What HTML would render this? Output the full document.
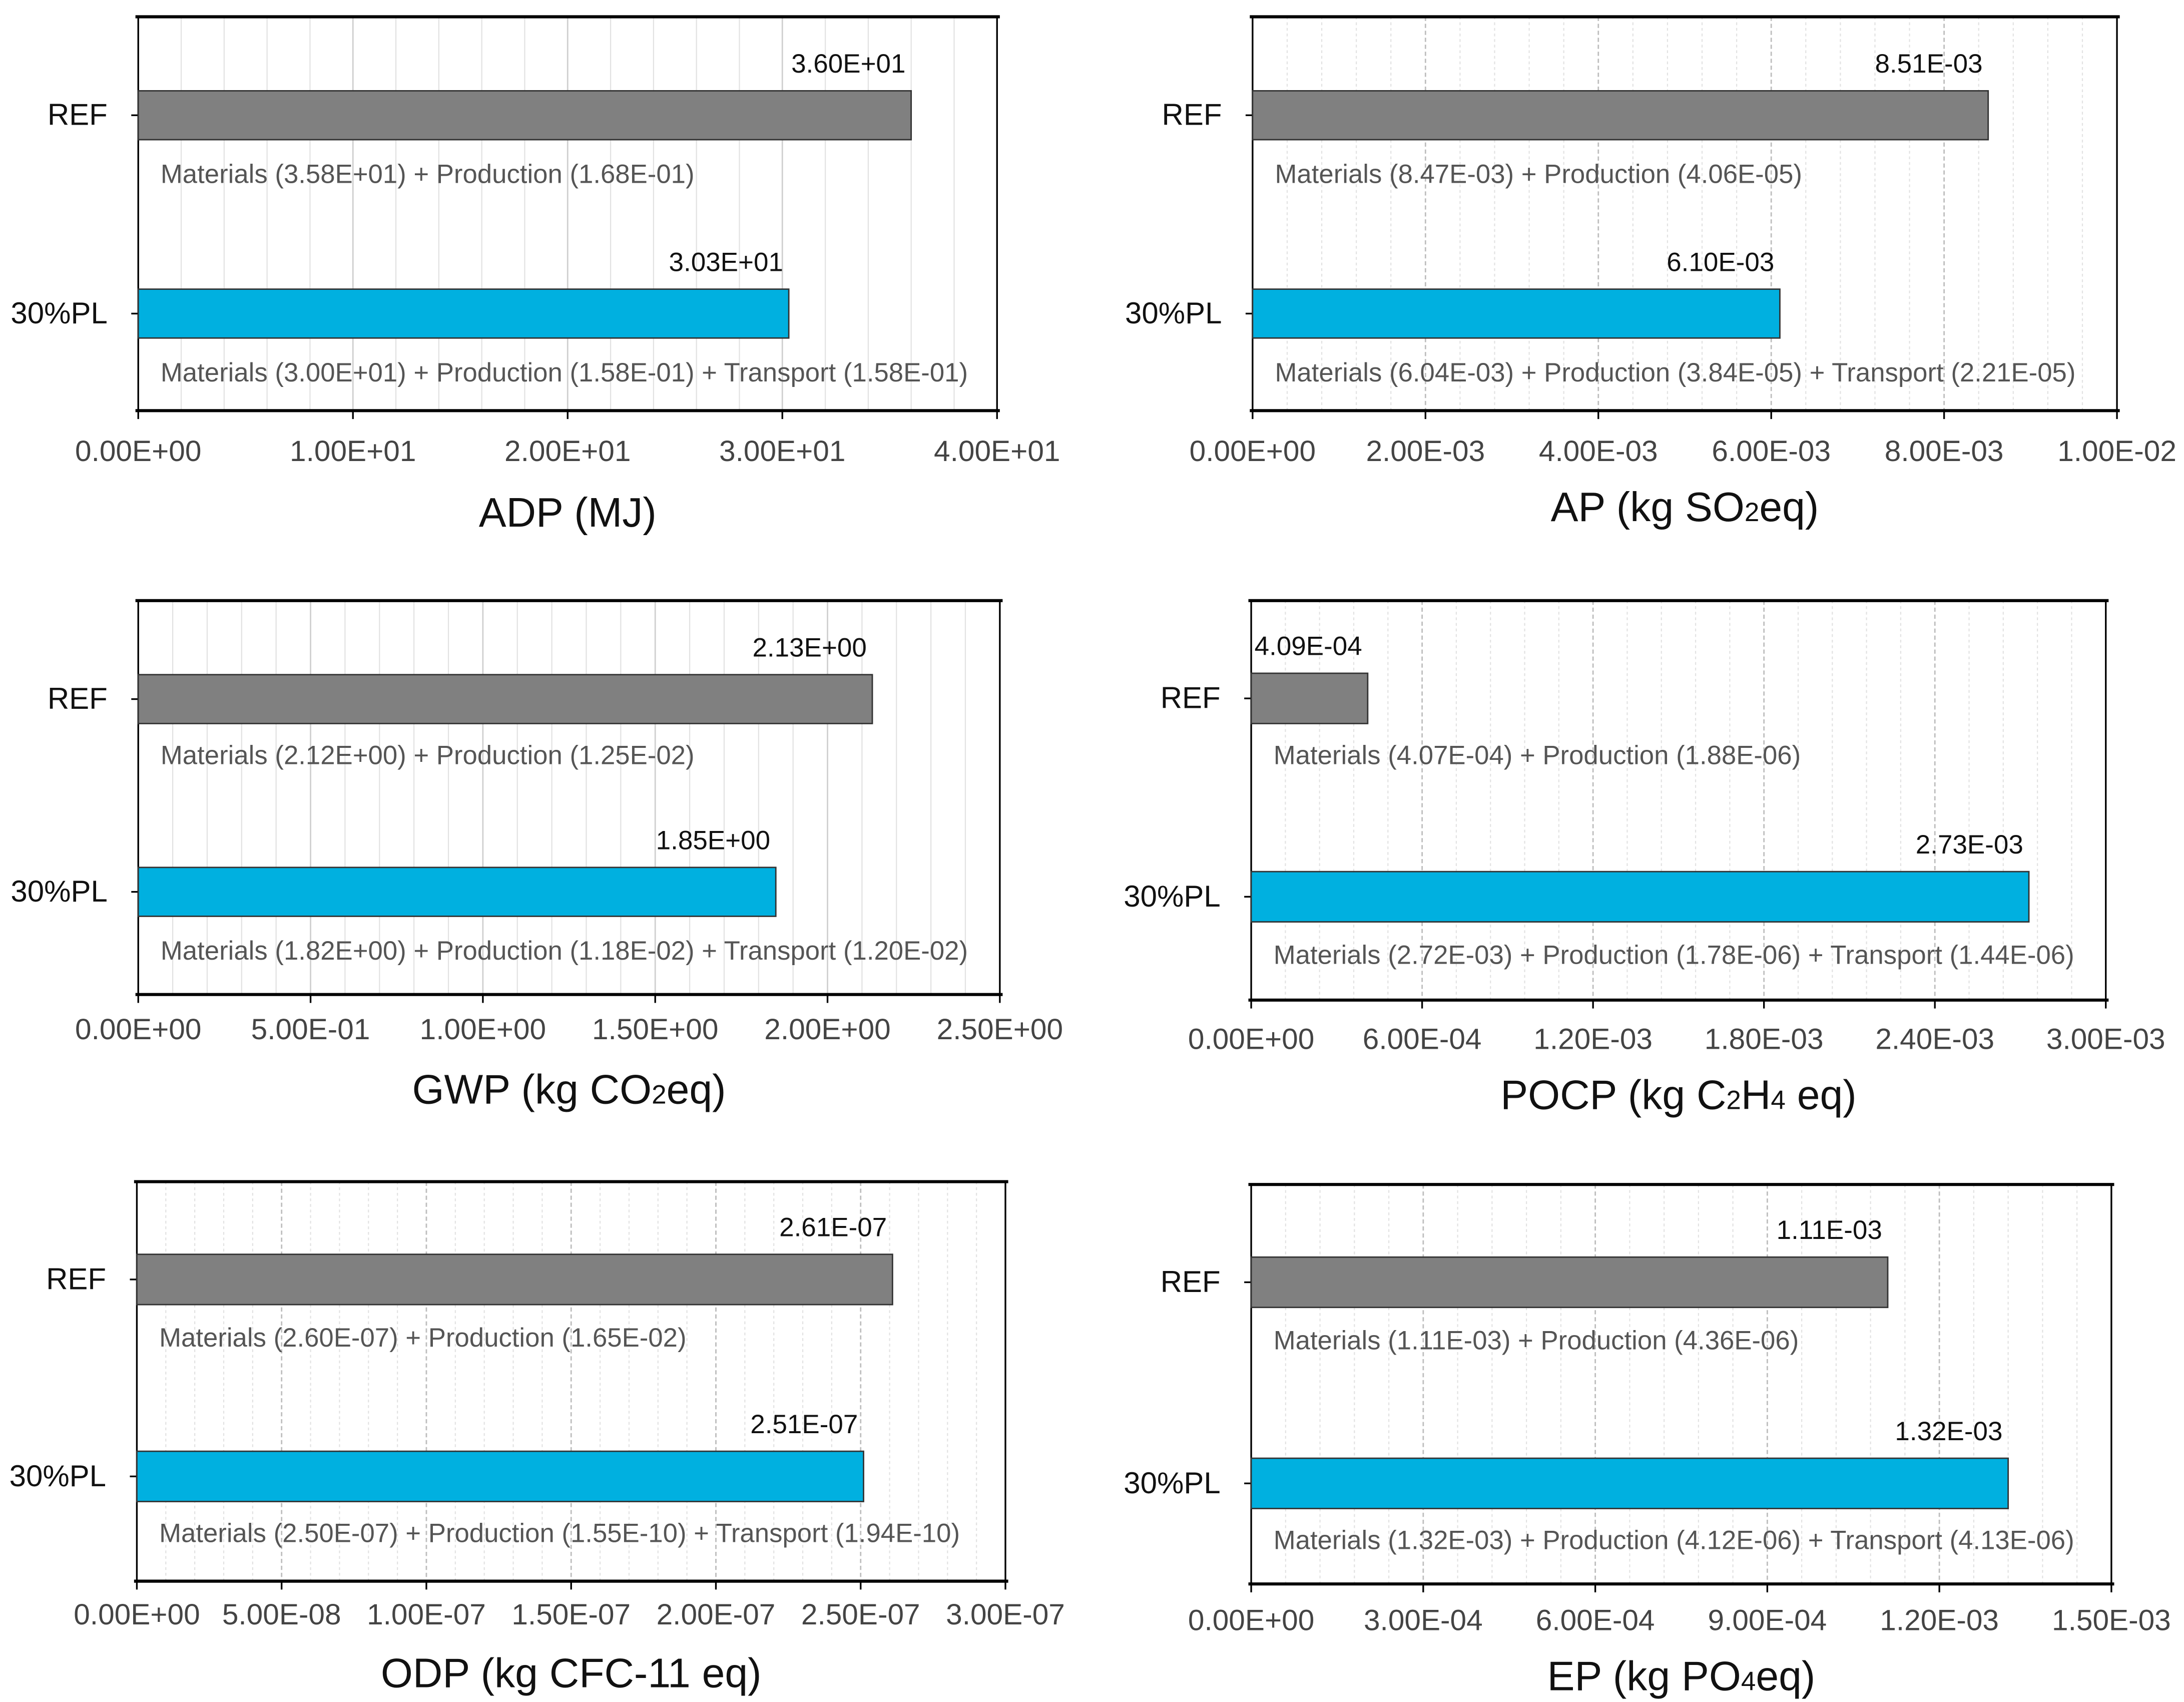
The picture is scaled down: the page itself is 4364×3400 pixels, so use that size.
<!DOCTYPE html>
<html><head><meta charset="utf-8"><style>
html,body{margin:0;padding:0;background:#fff}
svg{display:block}
text{font-family:"Liberation Sans",sans-serif}
</style></head><body>
<svg id="fig" xmlns="http://www.w3.org/2000/svg" width="4364" height="3400" viewBox="0 0 1564 1218.5"></svg>
<script>
const categories = ["REF", "30%PL"];
const adpValues = [36.0, 30.3];
const apValues = [8.51e-3, 6.10e-3];
const gwpValues = [2.13, 1.85];
const pocpValues = [4.09e-4, 2.73e-3];
const odpValues = [2.61e-7, 2.51e-7];
const epValues = [1.11e-3, 1.32e-3];
const adpLabels = ["3.60E+01", "3.03E+01"];
const apLabels = ["8.51E-03", "6.10E-03"];
const gwpLabels = ["2.13E+00", "1.85E+00"];
const pocpLabels = ["4.09E-04", "2.73E-03"];
const odpLabels = ["2.61E-07", "2.51E-07"];
const epLabels = ["1.11E-03", "1.32E-03"];
const adpTicks = [0, 10, 20, 30, 40];
const apTicks = [0, 0.002, 0.004, 0.006, 0.008, 0.010];
const gwpTicks = [0, 0.5, 1.0, 1.5, 2.0, 2.5];
const pocpTicks = [0, 6e-4, 1.2e-3, 1.8e-3, 2.4e-3, 3.0e-3];
const odpTicks = [0, 5e-8, 1e-7, 1.5e-7, 2e-7, 2.5e-7, 3e-7];
const epTicks = [0, 3e-4, 6e-4, 9e-4, 1.2e-3, 1.5e-3];
const adpTickLabels = ["0.00E+00","1.00E+01","2.00E+01","3.00E+01","4.00E+01"];
const apTickLabels = ["0.00E+00","2.00E-03","4.00E-03","6.00E-03","8.00E-03","1.00E-02"];
const gwpTickLabels = ["0.00E+00","5.00E-01","1.00E+00","1.50E+00","2.00E+00","2.50E+00"];
const pocpTickLabels = ["0.00E+00","6.00E-04","1.20E-03","1.80E-03","2.40E-03","3.00E-03"];
const odpTickLabels = ["0.00E+00","5.00E-08","1.00E-07","1.50E-07","2.00E-07","2.50E-07","3.00E-07"];
const epTickLabels = ["0.00E+00","3.00E-04","6.00E-04","9.00E-04","1.20E-03","1.50E-03"];
const adpNotes = ["Materials (3.58E+01) + Production (1.68E-01)","Materials (3.00E+01) + Production (1.58E-01) + Transport (1.58E-01)"];
const apNotes = ["Materials (8.47E-03) + Production (4.06E-05)","Materials (6.04E-03) + Production (3.84E-05) + Transport (2.21E-05)"];
const gwpNotes = ["Materials (2.12E+00) + Production (1.25E-02)","Materials (1.82E+00) + Production (1.18E-02) + Transport (1.20E-02)"];
const pocpNotes = ["Materials (4.07E-04) + Production (1.88E-06)","Materials (2.72E-03) + Production (1.78E-06) + Transport (1.44E-06)"];
const odpNotes = ["Materials (2.60E-07) + Production (1.65E-02)","Materials (2.50E-07) + Production (1.55E-10) + Transport (1.94E-10)"];
const epNotes = ["Materials (1.11E-03) + Production (4.36E-06)","Materials (1.32E-03) + Production (4.12E-06) + Transport (4.13E-06)"];

const NS = "http://www.w3.org/2000/svg";
const svg = document.getElementById("fig");
function mk(tag, attrs, parent, txt){
  const e = document.createElementNS(NS, tag);
  for (const k in attrs) e.setAttribute(k, attrs[k]);
  if (txt !== undefined) e.textContent = txt;
  (parent || svg).appendChild(e);
  return e;
}
const panels = [
 {name:"adp", vals:adpValues, labs:adpLabels, ticks:adpTicks, tl:adpTickLabels, notes:adpNotes, title:["ADP (MJ)"], L:99,R:714,T:12,B:294, bars:[65,207], bh:35, tickY:330, titleY:377, noteY:[131,273], dashed:false},
 {name:"ap", vals:apValues, labs:apLabels, ticks:apTicks, tl:apTickLabels, notes:apNotes, title:["AP (kg SO","2","eq)"], L:897,R:1516,T:12,B:294, bars:[65,207], bh:35, tickY:330, titleY:373, noteY:[131,273], dashed:true},
 {name:"gwp", vals:gwpValues, labs:gwpLabels, ticks:gwpTicks, tl:gwpTickLabels, notes:gwpNotes, title:["GWP (kg CO","2","eq)"], L:99,R:716,T:430,B:712, bars:[483,621], bh:35, tickY:744, titleY:790, noteY:[547,687], dashed:false},
 {name:"pocp", vals:pocpValues, labs:pocpLabels, ticks:pocpTicks, tl:pocpTickLabels, notes:pocpNotes, title:["POCP (kg C","2","H","4"," eq)"], L:896,R:1508,T:430,B:716, bars:[482,624], bh:36, tickY:751, titleY:794, noteY:[547,690], dashed:true},
 {name:"odp", vals:odpValues, labs:odpLabels, ticks:odpTicks, tl:odpTickLabels, notes:odpNotes, title:["ODP (kg CFC-11 eq)"], L:98,R:720,T:846,B:1132, bars:[898,1039], bh:36, tickY:1163, titleY:1208, noteY:[964,1104], dashed:true},
 {name:"ep", vals:epValues, labs:epLabels, ticks:epTicks, tl:epTickLabels, notes:epNotes, title:["EP (kg PO","4","eq)"], L:896,R:1512,T:848,B:1134, bars:[900,1044], bh:36, tickY:1167, titleY:1210, noteY:[966,1109], dashed:true}
];
const fills = ["#808080", "#00b0e0"];
panels.forEach(p => {
  const g = mk("g", {});
  
  
  const max = p.ticks[p.ticks.length-1];
  const x = v => p.L + (v / max) * (p.R - p.L);
  const step = p.ticks[1] - p.ticks[0];
  for (let i = 0; i < p.ticks.length - 1; i++) {
    for (let j = 1; j < 5; j++) {
      const gl = mk("line", {x1:x(p.ticks[i]+step*j/5), x2:x(p.ticks[i]+step*j/5), y1:p.T, y2:p.B, stroke:"#e2e2e2", "stroke-width":0.8, "stroke-dasharray": p.dashed ? "2,2" : "none"}, g);
      
      
    }
    if (i > 0) {
      const gl = mk("line", {x1:x(p.ticks[i]), x2:x(p.ticks[i]), y1:p.T, y2:p.B, stroke:p.dashed?"#bdbdbd":"#cfcfcf", "stroke-width":1, "stroke-dasharray": p.dashed ? "3,2" : "none"}, g);
      
      
    }
  }
  const fr = mk("rect", {x:p.L, y:p.T, width:p.R-p.L, height:p.B-p.T, fill:"none", stroke:"#000", "stroke-width":1.2}, g);
  
  
  mk("line", {x1:p.L-2, x2:p.R+2, y1:p.T, y2:p.T, stroke:"#000", "stroke-width":2.2}, g);
  const xa = mk("line", {x1:p.L-2, x2:p.R+2, y1:p.B, y2:p.B, stroke:"#000", "stroke-width":2.2}, g);
  
  
  p.ticks.forEach((t, i) => {
    mk("line", {x1:x(t), x2:x(t), y1:p.B, y2:p.B+6, stroke:"#000", "stroke-width":1.2}, g);
    const tt = mk("text", {x:x(t), y:p.tickY, "text-anchor":"middle", "font-size":21, fill:"#444"}, g, p.tl[i]);
    
    
  });
  const ti = mk("text", {x:(p.L+p.R)/2, y:p.titleY, "text-anchor":"middle", "font-size":29.5, fill:"#111"}, g);
  
  
  p.title.forEach((s, i) => { mk("tspan", {"font-size": i % 2 ? 19 : 29.5}, ti, s); });
  categories.forEach((c, i) => {
    const y = p.bars[i];
    const cy = y + p.bh/2;
    mk("line", {x1:p.L-5, x2:p.L, y1:cy, y2:cy, stroke:"#000", "stroke-width":1.2}, g);
    const cl = mk("text", {x:p.L-22, y:cy+7, "text-anchor":"end", "font-size":21.5, fill:"#111"}, g, c);
    
    
    const b = mk("rect", {x:p.L, y:y, width:x(p.vals[i])-p.L, height:p.bh, fill:fills[i], stroke:"#333", "stroke-width":1}, g);
    
    
    const vl = mk("text", {x:x(p.vals[i])-4, y:y-13, "text-anchor":"end", "font-size":19, fill:"#111"}, g, p.labs[i]);
    
    
    const nt = mk("text", {x:p.L+16, y:p.noteY[i], "font-size":18.9, fill:"#555"}, g, p.notes[i]);
    
    
  });
});
</script>
</body></html>
